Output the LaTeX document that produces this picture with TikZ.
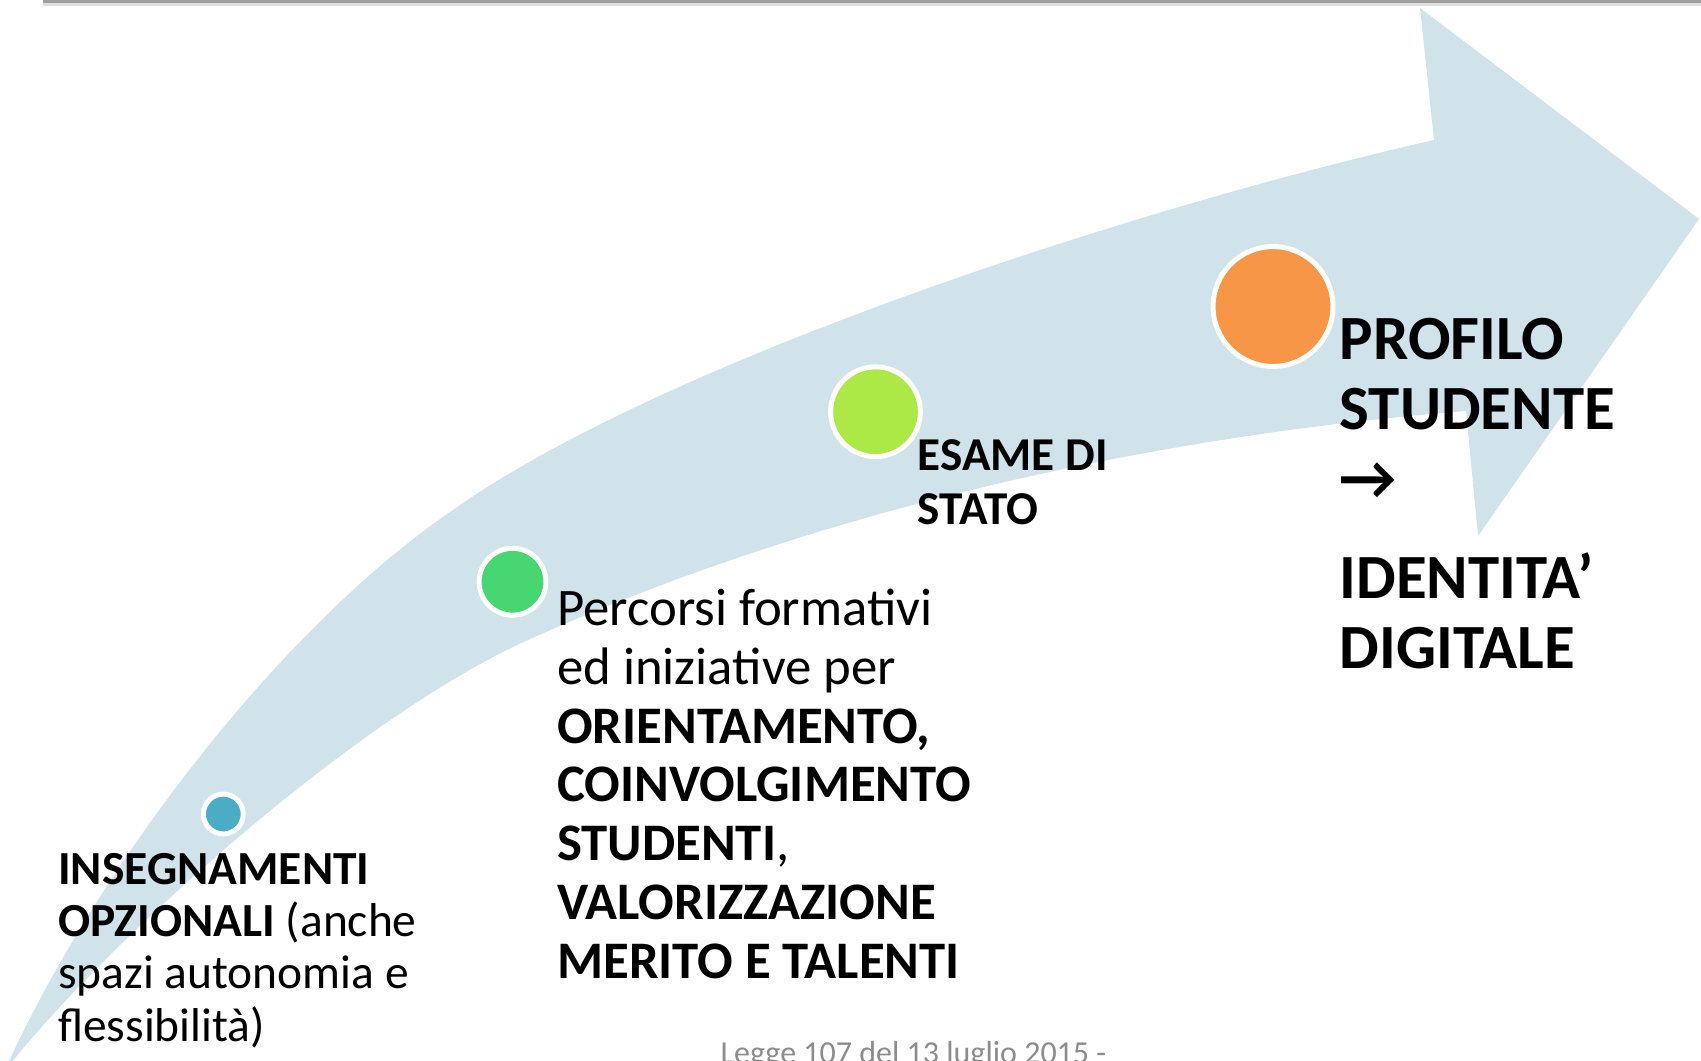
\documentclass[tikz,border=0pt]{standalone}
\usepackage{fontspec}
\setmainfont{Carlito}
\definecolor{arrowblue}{HTML}{D0E3EA}
\definecolor{dotteal}{HTML}{4BACC6}
\definecolor{dotgreen}{HTML}{47D672}
\definecolor{dotlime}{HTML}{ACE846}
\definecolor{dotorange}{HTML}{F79646}
\definecolor{footgray}{HTML}{8C8C8C}

\begin{document}
\begin{tikzpicture}[x=0.01cm,y=-0.01cm,
  dot/.style={circle,draw=white,line width=1.42pt,inner sep=0pt},
  lbl/.style={anchor=base west,inner sep=0pt,align=left}]
\useasboundingbox (0,0) rectangle (1701,1060);
\clip (0,0) rectangle (1701,1060);

% slide edge
\draw[gray!25,line width=1.4pt] (43,4) -- (1701,4);
\draw[gray!75,line width=0.8pt] (43,1.5) -- (1701,1.5);

% big arrow
\fill[arrowblue] (4,1072) .. controls (100,860) and (285,625) .. (450,512)
  .. controls (660,362) and (1134,208) .. (1434,140)
  -- (1420,8) -- (1699,219) -- (1478,536) -- (1466,411)
  .. controls (1166,435) and (828,505) .. (528,640)
  .. controls (348,721) and (94,955) .. (4,1072) -- cycle;

\node[dot,fill=dotteal,minimum size=0.398cm]   (Ins) at (223.3,814) {};
\node[dot,fill=dotgreen,minimum size=0.668cm]  (Per) at (512.5,581.7) {};
\node[dot,fill=dotlime,minimum size=0.897cm]   (Esa) at (875.5,411.7) {};
\node[dot,fill=dotorange,minimum size=1.198cm] (Pro) at (1273,306.5) {};

% text blocks (base = last line)
\node[lbl,font=\fontsize{13.5}{14.8}\selectfont] (InsT) at (57.5,1041)
  {\textbf{INSEGNAMENTI}\\\textbf{OPZIONALI} (anche\\spazi autonomia e\\flessibilità)};
\node[lbl,font=\fontsize{15}{16.7}\selectfont] (PerT) at (556.5,978)
  {Percorsi formativi\\ed iniziative per\\\textbf{ORIENTAMENTO,}\\\textbf{COINVOLGIMENTO}\\\textbf{STUDENTI},\\\textbf{VALORIZZAZIONE}\\\textbf{MERITO E TALENTI}};
\node[lbl,font=\bfseries\fontsize{13.4}{15.1}\selectfont] (EsaT) at (917,524)
  {ESAME DI\\STATO};
\node[lbl,font=\bfseries\fontsize{17.9}{19.8}\selectfont] (ProT) at (1339,668)
  {PROFILO\\STUDENTE\\→\\[8.4pt]IDENTITA’\\DIGITALE};

\node[lbl,text=footgray,font=\fontsize{9.1}{11}\selectfont] (Legge) at (720,1063)
  {Legge 107 del 13 luglio 2015 -};
\end{tikzpicture}
\end{document}
